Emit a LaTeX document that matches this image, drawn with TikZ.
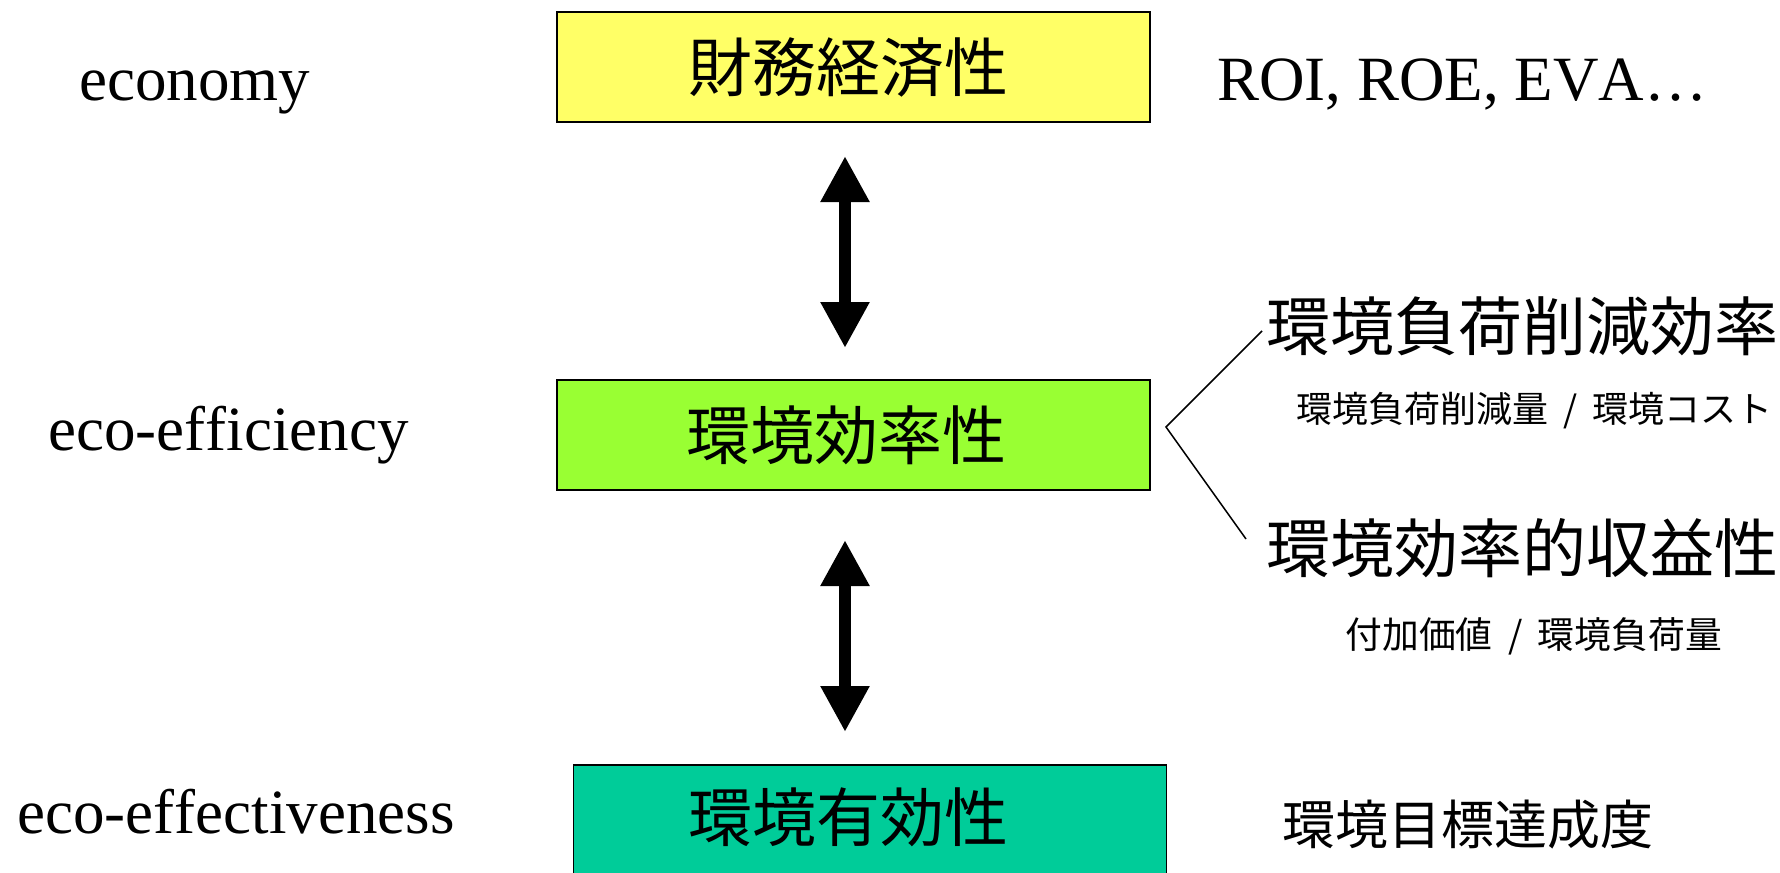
\documentclass[tikz,border=0pt]{standalone}
\usepackage{fontspec}
\setmainfont{Liberation Serif}[Ligatures=NoCommon,Kerning=Off]
\newfontfamily\jp{Noto Sans CJK JP}
\usetikzlibrary{arrows.meta}
\definecolor{boxyellow}{HTML}{FFFF66}
\definecolor{boxgreen}{HTML}{99FF33}
\definecolor{boxteal}{HTML}{00CC99}
\newcommand{\slashsep}{\hspace{0.42em}/\hspace{0.42em}}
\begin{document}
\begin{tikzpicture}[x=0.5pt,y=-0.5pt,
  box/.style={draw=black, line width=0.6pt, minimum width=296.5pt, minimum height=55pt, inner sep=0pt},
  boxtext/.style={inner sep=0pt, font=\jp\fontsize{32}{36}\selectfont},
  bigjp/.style={inner sep=0pt, anchor=west, font=\jp\fontsize{32}{36}\selectfont},
  midjp/.style={inner sep=0pt, anchor=west, font=\jp\fontsize{26.5}{30}\selectfont},
  smalljp/.style={inner sep=0pt, anchor=west, font=\jp\fontsize{18}{22}\selectfont},
  smalljpb/.style={inner sep=0pt, anchor=west, font=\jp\fontsize{18.4}{22}\selectfont},
  latin/.style={inner sep=0pt, anchor=base west, font=\fontsize{31.5}{36}\selectfont},
  bigarrow/.style={line width=6pt, {Triangle[length=23pt,width=23pt]}-{Triangle[length=23pt,width=23pt]}},
  thin/.style={line width=0.75pt}]
\useasboundingbox (0,0) rectangle (1780,872);
% boxes
\node[box, fill=boxyellow] (econbox) at (853.5,67) {};
\node[box, fill=boxgreen] (effbox) at (853.5,435) {};
\node[box, fill=boxteal] (efctbox) at (870,820) {};
\node[boxtext] (econtext) at (848,67) {財務経済性};
\node[boxtext] (efftext) at (846,435) {環境効率性};
\node[boxtext] (efcttext) at (848,817) {環境有効性};
% left labels
\node[latin] (economy) at (79,100) {economy};
\node[latin] (ecoeff) at (48,450) {eco-efficiency};
\node[latin] (ecoeffect) at (17,833) {eco-effectiveness};
% right labels
\node[latin] (roi) at (1217,100) {ROI, ROE, EVA…};
\node[bigjp] (r1) at (1266,326) {環境負荷削減効率};
\node[smalljp] (r1s) at (1296,411) {環境負荷削減量\slashsep 環境コスト};
\node[bigjp] (r2) at (1266,548) {環境効率的収益性};
\node[smalljpb] (r2s) at (1345,636) {付加価値\slashsep 環境負荷量};
\node[midjp] (r3) at (1282,825) {環境目標達成度};
% arrows
\coordinate (a1top) at (845,156);
\coordinate (a1bot) at (845,348);
\coordinate (a2top) at (845,540);
\coordinate (a2bot) at (845,732);
\draw[bigarrow] (a1top) -- (a1bot);
\draw[bigarrow] (a2top) -- (a2bot);
% bracket
\coordinate (vtx) at (1166,427);
\coordinate (up) at (1262,331);
\coordinate (low) at (1246,539);
\draw[thin] (up) -- (vtx) -- (low);
\end{tikzpicture}
\end{document}
